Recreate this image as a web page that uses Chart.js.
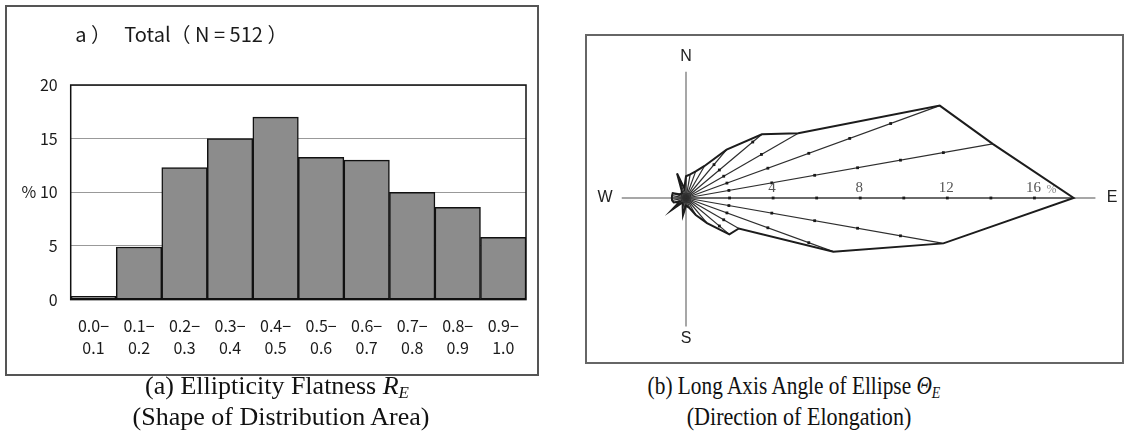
<!DOCTYPE html>
<html>
<head>
<meta charset="utf-8">
<script src="https://cdn.jsdelivr.net/npm/chart.js@4.4.1/dist/chart.umd.min.js"></script>
<style>
    body { margin: 0; background: #fff; width: 1126px; height: 432px; position: relative; overflow: hidden; }
    #histCanvas { position: absolute; left: 0; top: 0; }
    #histFrame { position: absolute; left: 5px; top: 5px; width: 534px; height: 371px; border: 2px solid #555; box-sizing: border-box; pointer-events: none; }
    #roseFrame { position: absolute; left: 585px; top: 34px; width: 539px; height: 330px; border: 2px solid #666; box-sizing: border-box; overflow: hidden; }
    #roseCanvas { position: absolute; left: -351px; top: -230px; }
    .caption { position: absolute; width: 440px; font-family: "Liberation Serif", "Times New Roman", serif; font-size: 26px; line-height: 31px; text-align: center; color: #111; white-space: nowrap; }
    .caption sub { font-size: 17px; vertical-align: -4px; line-height: 0; }
    .caption div { transform-origin: 50% 50%; }
</style>
</head>
<body>
<canvas id="histCanvas" width="560" height="380"></canvas>
<div id="histFrame"></div>
<div id="roseFrame"><canvas id="roseCanvas" width="900" height="784"></canvas></div>

<div class="caption" style="left:57px; top:370px;">
    <div>(a) Ellipticity Flatness <i>R</i><sub><i>E</i></sub></div>
    <div style="transform: translateX(4px);">(Shape of Distribution Area)</div>
</div>
<div class="caption" style="left:574px; top:370px;">
    <div style="transform: scaleX(0.82);">(b) Long Axis Angle of Ellipse <i>Θ</i><sub><i>E</i></sub></div>
    <div style="transform: translateX(5px) scaleX(0.85);">(Direction of Elongation)</div>
</div>

<script>
// ========== DATOS ==========
// a) histograma de R_E
const rangeLabels = [
    ['0.0−', '0.1'], ['0.1−', '0.2'], ['0.2−', '0.3'], ['0.3−', '0.4'], ['0.4−', '0.5'],
    ['0.5−', '0.6'], ['0.6−', '0.7'], ['0.7−', '0.8'], ['0.8−', '0.9'], ['0.9−', '1.0']
];
const percentValues = [0.3, 4.9, 12.3, 15.0, 17.0, 13.25, 13.0, 10.0, 8.6, 5.8];
const histTitle = ' a ）   Total（ N = 512 ）';

// b) rosa de direcciones: rumbo desde el norte, en sentido horario, cada 10°
const bearings = [];
for (let b = 0; b < 360; b += 10) bearings.push(b + '°');
const roseValues = [
    1.0, 1.1, 1.3, 1.7, 2.9, 4.55, 5.95, 12.4, 14.3,   // 0° .. 80°
    17.8, 12.0, 7.2, 2.8, 2.6, 1.5, 0.9, 0.5, 0.4,     // 90° .. 170°
    0.35, 0.8, 0.45, 0.3, 0.3, 0.85, 0.35, 0.6, 0.65,  // 180° .. 260°
    0.65, 0.65, 0.65, 0.35, 0.3, 0.3, 0.4, 1.2, 0.45   // 270° .. 350°
];
const roseTickLabels = [4, 8, 12, 16];

const gothic = '"Noto Sans CJK JP", "Noto Sans", sans-serif';

// ========== HISTOGRAMA ==========
const plotBorder = {
    id: 'plotBorder',
    afterDraw(chart) {
        const { ctx, chartArea: a } = chart;
        ctx.save();
        ctx.strokeStyle = '#111';
        ctx.lineWidth = 1.5;
        ctx.strokeRect(a.left, a.top, a.right - a.left, a.bottom - a.top);
        ctx.restore();
    }
};

new Chart(document.getElementById('histCanvas'), {
    type: 'bar',
    data: {
        labels: rangeLabels,
        datasets: [{
            data: percentValues,
            backgroundColor: '#8c8c8c',
            borderColor: '#111',
            borderWidth: 1.5,
            borderSkipped: false,
            categoryPercentage: 1,
            barPercentage: 1
        }]
    },
    options: {
        responsive: false,
        animation: false,
        layout: { padding: { right: 34 } },
        plugins: {
            legend: { display: false },
            tooltip: { enabled: false },
            title: {
                display: true,
                text: histTitle,
                align: 'start',
                fullSize: false,
                color: '#1a1a1a',
                font: { family: gothic, size: 20, weight: 'normal' },
                padding: { top: 22, bottom: 39 }
            }
        },
        scales: {
            x: {
                grid: { display: false, drawTicks: false },
                border: { display: false },
                ticks: {
                    color: '#1a1a1a',
                    font: { family: gothic, size: 16, lineHeight: 1.344 },
                    padding: 16,
                    maxRotation: 0,
                    autoSkip: false
                },
                afterFit: (s) => { s.height = 80.4; }
            },
            y: {
                min: 0,
                max: 20,
                ticks: {
                    stepSize: 5,
                    padding: 13,
                    color: '#1a1a1a',
                    font: { family: gothic, size: 16 },
                    callback: (v) => v === 10 ? '% 10' : v
                },
                grid: { color: '#999', drawTicks: false },
                border: { display: false },
                afterFit: (s) => { s.width = 70.7; }
            }
        }
    },
    plugins: [plotBorder]
});

// ========== ROSA ==========
const roseDecor = {
    id: 'roseDecor',
    beforeDatasetsDraw(chart) {
        const r = chart.scales.r;
        const ctx = chart.ctx;
        const center = { x: r.xCenter, y: r.yCenter };
        const pt = (i, v) => r.getPointPositionForValue(i, v);
        const seg = (a, b) => { ctx.beginPath(); ctx.moveTo(a.x, a.y); ctx.lineTo(b.x, b.y); ctx.stroke(); };

        ctx.save();
        // ejes N-S y W-E
        ctx.strokeStyle = '#8a8a8a';
        ctx.lineWidth = 1.5;
        seg(pt(0, 5.8), pt(18, 5.9));
        seg(pt(27, 2.95), pt(9, 18.8));

        // radios con marcas cada 2 %
        ctx.strokeStyle = '#2e2e2e';
        ctx.lineWidth = 1.2;
        ctx.fillStyle = '#1a1a1a';
        roseValues.forEach((v, i) => {
            seg(center, pt(i, v));
            for (let k = 2; k <= v - 0.5; k += 2) {
                const p = pt(i, k);
                ctx.fillRect(p.x - 1.4, p.y - 1.4, 2.8, 2.8);
            }
        });

        // escala sobre el eje E
        ctx.fillStyle = '#555';
        ctx.textAlign = 'center';
        ctx.textBaseline = 'middle';
        ctx.font = '15px "Liberation Serif", serif';
        roseTickLabels.forEach((t) => {
            const p = pt(9, t);
            ctx.fillText(String(t), p.x - 1, p.y - 10);
        });
        const last = pt(9, roseTickLabels[roseTickLabels.length - 1]);
        ctx.fillStyle = '#888';
        ctx.font = '12px "Liberation Serif", serif';
        ctx.fillText('%', last.x + 17, last.y - 8);

        // puntos cardinales
        ctx.fillStyle = '#222';
        ctx.font = '16px "Liberation Sans", Arial, sans-serif';
        [['N', 0, 6.5], ['E', 9, 19.56], ['S', 18, 6.45], ['W', 27, 3.72]].forEach(([txt, i, v]) => {
            const p = pt(i, v);
            ctx.fillText(txt, p.x, p.y);
        });
        ctx.restore();
    }
};

new Chart(document.getElementById('roseCanvas'), {
    type: 'radar',
    data: {
        labels: bearings,
        datasets: [{
            data: roseValues,
            borderColor: '#1c1c1c',
            borderWidth: 2,
            fill: false,
            pointRadius: 0,
            tension: 0
        }]
    },
    options: {
        responsive: false,
        animation: false,
        plugins: { legend: { display: false }, tooltip: { enabled: false } },
        scales: {
            r: {
                min: 0,
                max: 18,
                startAngle: 0,
                ticks: { display: false },
                grid: { display: false },
                angleLines: { display: false },
                pointLabels: { display: false }
            }
        }
    },
    plugins: [roseDecor]
});
</script>
</body>
</html>
